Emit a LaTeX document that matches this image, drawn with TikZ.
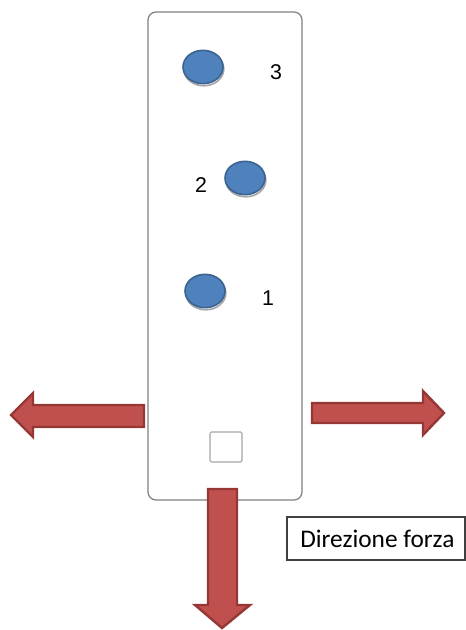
\documentclass[tikz,border=0pt]{standalone}
\usepackage{fontspec}
\setmainfont{Liberation Sans}
\newfontfamily\boxfont{Carlito}
\usetikzlibrary{shapes.geometric,shadows}
\definecolor{holefill}{HTML}{4F81BD}
\definecolor{holeline}{HTML}{3A6390}
\definecolor{forcefill}{HTML}{C0504D}
\definecolor{forceline}{HTML}{943735}
\definecolor{plateline}{HTML}{7F7F7F}

\tikzset{
  hole/.style={ellipse, draw=holeline, line width=1.2pt, fill=holefill,
    minimum width=30pt, minimum height=25pt, inner sep=0pt,
    drop shadow={shadow xshift=0.6pt, shadow yshift=-1.6pt, fill=white,
      draw=gray!70, opacity=1}},
  holelabel/.style={font=\fontsize{16}{18}\selectfont, inner sep=0pt},
  force/.style={fill=forcefill, draw=forceline, line width=1.8pt, line join=miter},
}

\begin{document}
\begin{tikzpicture}[x=0.75pt, y=-0.75pt]
\useasboundingbox (0,0) rectangle (466,630);

% plate
\draw[plateline, line width=0.9pt, rounded corners=6pt] (148,12) rectangle (302,500);

% holes and their numbers
\node[hole] (hole3) at (203,67) {};
\node[hole] (hole2) at (245,178) {};
\node[hole] (hole1) at (205,291) {};
\node[holelabel] (num3) at (276,72) {3};
\node[holelabel] (num2) at (201,185) {2};
\node[holelabel] (num1) at (268,298) {1};

% small square
\draw[gray!70, line width=0.8pt, rounded corners=1pt] (210,432) rectangle (242,462);

% force arrows
\draw[force] (144,405) -- (33,405) -- (33,393) -- (11,415) -- (33,437)
  -- (33,427) -- (144,427) -- cycle;
\draw[force] (312,403) -- (423,403) -- (423,391) -- (444,413) -- (423,435)
  -- (423,423) -- (312,423) -- cycle;
\draw[force] (208,489) -- (237,489) -- (237,605) -- (250,605) -- (222,628)
  -- (195,605) -- (208,605) -- cycle;

% caption box
\draw[black!75, line width=0.9pt] (287,517) rectangle (465,560);
\node[anchor=west, inner sep=0pt, font=\boxfont\fontsize{19}{21}\selectfont]
  (caption) at (300,539) {Direzione forza};
\end{tikzpicture}
\end{document}
